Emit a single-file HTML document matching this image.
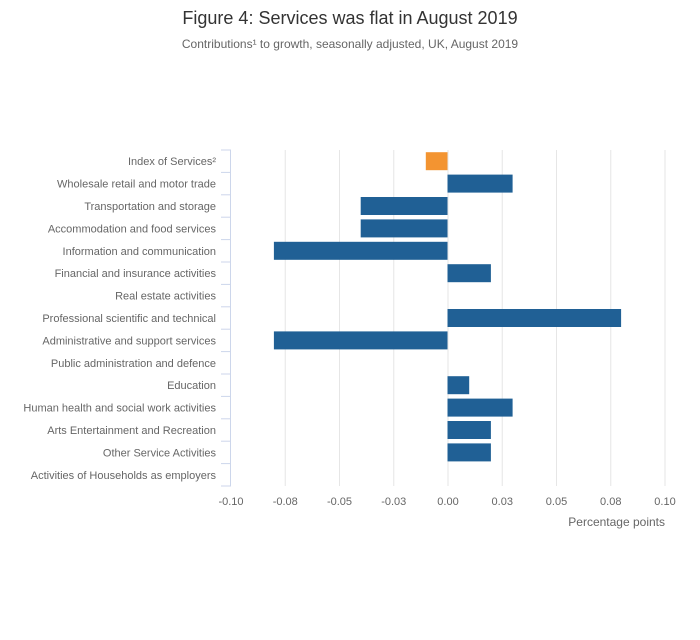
<!DOCTYPE html>
<html><head><meta charset="utf-8"><style>
body{margin:0;background:#fff;font-family:"Liberation Sans",sans-serif;}
svg text{font-family:"Liberation Sans",sans-serif;}
</style></head><body>
<svg id="chart" width="700" height="635" xmlns="http://www.w3.org/2000/svg">
<text x="350" y="24" text-anchor="middle" font-size="18" fill="#333">Figure 4: Services was flat in August 2019</text>
<text x="350" y="48" text-anchor="middle" font-size="12" fill="#666">Contributions¹ to growth, seasonally adjusted, UK, August 2019</text>
<g id="grid"></g><g id="bars"></g><g id="axes"></g>
<text x="665" y="526" text-anchor="end" font-size="12" fill="#666">Percentage points</text>
</svg>
<script>
const categories=["Index of Services²","Wholesale retail and motor trade","Transportation and storage","Accommodation and food services","Information and communication","Financial and insurance activities","Real estate activities","Professional scientific and technical","Administrative and support services","Public administration and defence","Education","Human health and social work activities","Arts Entertainment and Recreation","Other Service Activities","Activities of Households as employers"];
const values=[-0.01,0.03,-0.04,-0.04,-0.08,0.02,0,0.08,-0.08,0,0.01,0.03,0.02,0.02,0];
const ticks=[-0.1,-0.075,-0.05,-0.025,0,0.025,0.05,0.075,0.1];
const tickLabels=["-0.10","-0.08","-0.05","-0.03","0.00","0.03","0.05","0.08","0.10"];
const NS="http://www.w3.org/2000/svg";
const x0=231,x1=665,yTop=150,yBottom=486;
const xs=v=>x0+(v-ticks[0])/(ticks[ticks.length-1]-ticks[0])*(x1-x0);
const band=(yBottom-yTop)/categories.length;
function mk(t,a,p){const e=document.createElementNS(NS,t);for(const k in a)e.setAttribute(k,a[k]);p.appendChild(e);return e;}
const grid=document.getElementById('grid'),bars=document.getElementById('bars'),axes=document.getElementById('axes');
ticks.forEach((t,i)=>{
 if(i>0){const g=mk('line',{x1:xs(t),x2:xs(t),y1:yTop,y2:yBottom,stroke:'#e6e6e6'},grid);
 
 }
 const l=mk('text',{x:xs(t),y:505,'text-anchor':'middle','font-size':11,fill:'#666'},axes);l.textContent=tickLabels[i];
 
 
});
const ax=mk('line',{x1:x0-0.5,x2:x0-0.5,y1:yTop,y2:yBottom,stroke:'#ccd6eb'},axes);


for(let k=0;k<=categories.length;k++){const y=yTop+k*band;
 const tk=mk('line',{x1:x0-10,x2:x0,y1:y,y2:y,stroke:'#ccd6eb'},axes);
 
 }
categories.forEach((c,i)=>{
 const cy=yTop+(i+0.5)*band;
 const l=mk('text',{x:216,y:cy+4,'text-anchor':'end','font-size':11,fill:'#666'},axes);l.textContent=c;
 
 
 const v=values[i];if(v===0)return;
 const a=xs(Math.min(0,v)),b=xs(Math.max(0,v));
 const r=mk('rect',{x:a-0.5,y:cy-9,width:b-a,height:18,fill:i===0?'#f39431':'#206095'},bars);
 
 
});
</script>
</body></html>
